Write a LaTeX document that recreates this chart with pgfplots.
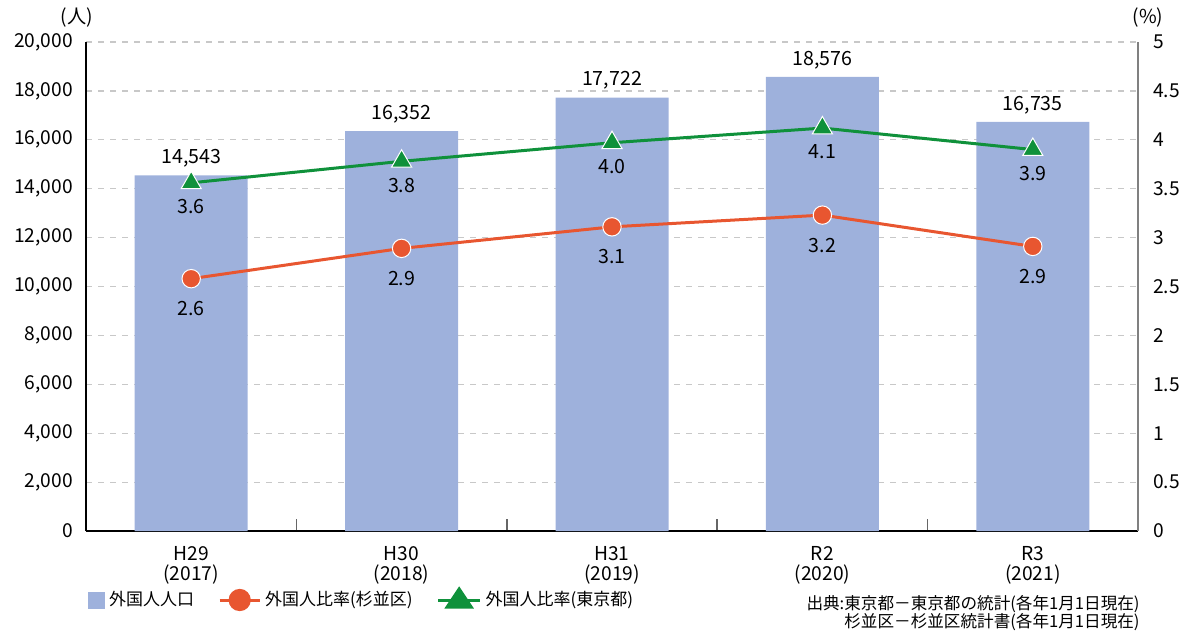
\documentclass[border=0pt]{standalone}
\usepackage{fontspec}
\setmainfont{Noto Sans CJK JP}
\usepackage{pgfplots}
\pgfplotsset{compat=1.18}

\definecolor{barblue}{HTML}{9EB1DC}
\definecolor{ratioorange}{HTML}{E85630}
\definecolor{ratiogreen}{HTML}{0F913B}
\definecolor{gridgray}{HTML}{C8C8C8}

\pgfplotsset{
  common/.style={
    width=526pt, height=244.5pt, scale only axis,
    xmin=-0.5, xmax=4.5,
    /pgf/number format/assume math mode=true,
    tick label style={font=\fontsize{9.6}{10}\selectfont},
  },
}

\begin{document}
\begin{tikzpicture}
\begin{axis}[
    common,
    ymin=0, ymax=20000,
    ytick={0,2000,...,20000},
    scaled y ticks=false,
    yticklabel style={/pgf/number format/1000 sep={,}, xshift=-3pt},
    axis y line*=left,
    axis x line*=bottom,
    ymajorgrids,
    grid style={gridgray, dashed, line width=0.6pt},
    y tick style={draw=none},
    xtick={0,1,2,3,4},
    xticklabels={{H29\\(2017)},{H30\\(2018)},{H31\\(2019)},{R2\\(2020)},{R3\\(2021)}},
    xticklabel style={align=center},
    major x tick style={draw=none},
    minor xtick={0.5,1.5,2.5,3.5},
    minor x tick style={gray!80!black, line width=0.8pt},
    minor tick length=-6pt,
    axis line style={black, line width=0.6pt},
    ybar, bar width=56.5pt,
    nodes near coords,
    point meta=y,
    every node near coord/.append style={/pgf/number format/1000 sep={,}, font=\fontsize{9.8}{10}\selectfont, anchor=center, yshift=8.5pt},
]
\addplot[fill=barblue, draw=none] coordinates {(0,14543) (1,16352) (2,17722) (3,18576) (4,16735)};
\end{axis}

\begin{axis}[
    common,
    clip=false,
    ymin=0, ymax=5,
    ytick={0,0.5,...,5},
    axis y line*=right,
    axis x line=none,
    y tick style={draw=none},
    yticklabel style={xshift=4pt},
    y axis line style={gray, line width=0.6pt},
    point meta=y,
    nodes near coords,
    every node near coord/.append style={/pgf/number format/fixed, /pgf/number format/fixed zerofill, /pgf/number format/precision=1},
    legend columns=3,
    legend style={
      draw=none, fill=none,
      at={(0,0)}, anchor=west, yshift=-34.5pt, xshift=-2pt,
      font=\fontsize{8.5}{10}\selectfont,
      /tikz/every even column/.append style={column sep=10pt},
    },
]
\addlegendimage{legend image code/.code={\fill[barblue] (0pt,-4pt) rectangle (8pt,4pt);}}
\addlegendentry{外国人人口}
\addplot[ratioorange, line width=1.5pt, mark=*,
    mark options={fill=ratioorange, draw=white, line width=0.5pt, mark size=4.6pt},
    every node near coord/.append style={black, font=\fontsize{9.8}{10}\selectfont, anchor=center, yshift=-15pt},
    legend image code/.code={\draw[ratioorange, line width=1.5pt] (0pt,0pt) -- (20pt,0pt);
      \fill[ratioorange] (10pt,0pt) circle (4.8pt);}]
  coordinates {(0,2.58) (1,2.89) (2,3.11) (3,3.23) (4,2.91)};
\addlegendentry{外国人比率(杉並区)}
\addplot[ratiogreen, line width=1.5pt, mark=triangle*,
    mark options={fill=ratiogreen, draw=white, line width=0.5pt, mark size=5.8pt},
    every node near coord/.append style={black, font=\fontsize{9.8}{10}\selectfont, anchor=center, yshift=-12pt},
    legend image code/.code={\draw[ratiogreen, line width=1.5pt] (0pt,0pt) -- (21pt,0pt);
      \fill[ratiogreen] (4.5pt,-3.5pt) -- (16.5pt,-3.5pt) -- (10.5pt,5.5pt) -- cycle;}]
  coordinates {(0,3.56) (1,3.78) (2,3.97) (3,4.12) (4,3.90)};
\addlegendentry{外国人比率(東京都)}

\node[font=\fontsize{9.6}{10}\selectfont, xshift=-4.5pt, yshift=12pt] at (rel axis cs:0,1) {(人)};
\node[font=\fontsize{9.6}{10}\selectfont, xshift=5pt, yshift=12pt] at (rel axis cs:1,1) {(\%)};
\node[font=\fontsize{8.3}{9}\selectfont, align=right, anchor=north east, inner sep=0pt, xshift=1pt, yshift=-32pt]
  at (rel axis cs:1,0)
  {出典:東京都－東京都の統計(各年1月1日現在)\\杉並区－杉並区統計書(各年1月1日現在)};
\end{axis}
\pgfresetboundingbox
\path (-43pt,-50.5pt) rectangle (550pt,265.5pt);
\end{tikzpicture}
\end{document}
